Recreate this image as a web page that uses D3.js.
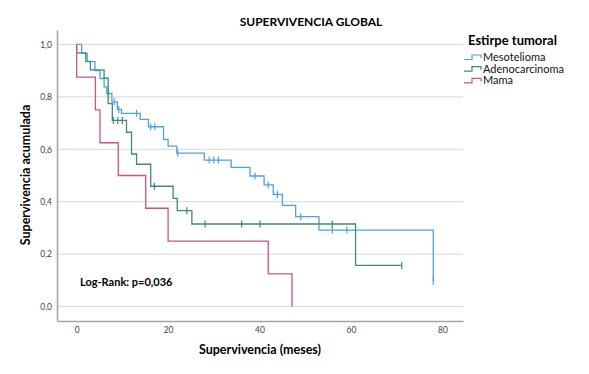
<!DOCTYPE html>
<html>
<head>
<meta charset="utf-8">
<script src="https://cdn.jsdelivr.net/npm/d3@7"></script>
<style>
  body { margin: 0; background: #fff; }
  text { font-family: Lato, "Open Sans", sans-serif; }
</style>
</head>
<body>
<svg width="589" height="374"></svg>
<script>
// Kaplan-Meier curves: event times (months) and survival after each event
const seriesNames = ["Mesotelioma", "Adenocarcinoma", "Mama"];
const seriesColors = ["#4ba3df", "#3f8a7a", "#c9557f"];

const mesoTimes = [1.1, 2.3, 4, 5.1, 6, 6.6, 7.7, 8.9, 9.8, 13.9, 15.7, 19, 20, 21.9, 27.9, 33.8, 37.9, 41, 43, 45, 47.9, 53, 78];
const mesoSurv = [0.966, 0.934, 0.90, 0.870, 0.838, 0.813, 0.781, 0.752, 0.737, 0.714, 0.686, 0.638, 0.612, 0.585, 0.559, 0.531, 0.498, 0.464, 0.428, 0.386, 0.343, 0.292, 0.097];
const mesoCensored = [6.9, 8.2, 9.2, 13.1, 16.2, 17.1, 22.1, 29, 30, 31, 39, 41.9, 43.9, 49, 55.9, 59.1, 78];

const adenoTimes = [0, 2, 3, 6, 6.9, 7.8, 10.9, 12, 13.1, 16.2, 21.1, 22, 25.2, 61];
const adenoSurv = [0.968, 0.935, 0.903, 0.871, 0.774, 0.710, 0.665, 0.582, 0.543, 0.459, 0.413, 0.366, 0.315, 0.157];
const adenoCensored = [8, 9, 10, 17, 24.1, 28.1, 36.1, 40.1, 55.9, 71.1];

const mamaTimes = [0, 4.1, 5.1, 9.1, 15.1, 20, 41.9, 47.1];
const mamaSurv = [0.875, 0.75, 0.625, 0.5, 0.375, 0.25, 0.125, 0];
const mamaCensored = [];

const xTicks = [0, 20, 40, 60, 80];
const yTicks = [0, 0.2, 0.4, 0.6, 0.8, 1.0];

const series = [
  { name: seriesNames[0], color: seriesColors[0], times: mesoTimes, surv: mesoSurv, cens: mesoCensored },
  { name: seriesNames[1], color: seriesColors[1], times: adenoTimes, surv: adenoSurv, cens: adenoCensored },
  { name: seriesNames[2], color: seriesColors[2], times: mamaTimes, surv: mamaSurv, cens: mamaCensored }
];

const svg = d3.select("svg");

const x = d3.scaleLinear().domain([-4.3, 84.5]).range([57, 463]);
const y = d3.scaleLinear().domain([-0.055, 1.055]).range([321, 30]);
const fmt = d => d3.format(".1f")(d).replace(".", ",");

// gridlines
svg.selectAll(".grid")
  .data(yTicks)
  .enter().append("line")
  .attr("x1", x.range()[0]).attr("x2", x.range()[1])
  .attr("y1", d => y(d)).attr("y2", d => y(d))
  .attr("stroke", "#d6d6d6").attr("stroke-width", 1);

// axes
const yAxis = svg.append("g").attr("transform", "translate(57,0)")
  .call(d3.axisLeft(y).tickValues(yTicks).tickSize(0).tickPadding(5).tickFormat(fmt));
const xAxis = svg.append("g").attr("transform", "translate(0,321)")
  .call(d3.axisBottom(x).tickValues(xTicks).tickSize(0).tickPadding(6));
[yAxis, xAxis].forEach(a => {
  a.select(".domain").attr("stroke", "#a3a3a3").attr("stroke-width", 1.5);
  a.selectAll("text").attr("font-family", "'Open Sans', sans-serif")
    .attr("font-size", 8.5).attr("fill", "#444");
});

// step function value at time t
function survAt(s, t) {
  let v = 1;
  s.times.forEach((tt, i) => { if (tt <= t) v = s.surv[i]; });
  return v;
}

series.forEach(s => {
  let d = "M" + x(0) + "," + y(1);
  s.times.forEach((t, i) => {
    d += "H" + x(t) + "V" + y(s.surv[i]);
  });
  const last = d3.max(s.cens.concat(s.times));
  d += "H" + x(last);
  svg.append("path")
    .attr("d", d)
    .attr("fill", "none")
    .attr("stroke", s.color)
    .attr("stroke-width", 1.3);

  svg.selectAll(null)
    .data(s.cens)
    .enter().append("line")
    .attr("x1", t => x(t)).attr("x2", t => x(t))
    .attr("y1", t => y(survAt(s, t)) - 3.5)
    .attr("y2", t => y(survAt(s, t)) + 3.5)
    .attr("stroke", s.color).attr("stroke-width", 1.2);
});

// titles
svg.append("text").attr("x", 311).attr("y", 26).attr("text-anchor", "middle")
  .attr("font-weight", "bold").attr("font-size", 12).text("SUPERVIVENCIA GLOBAL");
svg.append("text").attr("x", 260).attr("y", 354).attr("text-anchor", "middle")
  .attr("font-weight", "bold").attr("font-size", 12.5).text("Supervivencia (meses)");
svg.append("text").attr("transform", "translate(30,175) rotate(-90)").attr("text-anchor", "middle")
  .attr("font-weight", "bold").attr("font-size", 12.5).text("Supervivencia acumulada");
svg.append("text").attr("x", 80).attr("y", 286)
  .attr("font-weight", "bold").attr("font-size", 11).text("Log-Rank: p=0,036");

// legend
svg.append("text").attr("x", 468).attr("y", 45)
  .attr("font-weight", "bold").attr("font-size", 13).text("Estirpe tumoral");
const leg = svg.selectAll(".leg")
  .data(series)
  .enter().append("g")
  .attr("transform", (d, i) => "translate(464," + (57 + i * 11.7) + ")");
leg.append("path")
  .attr("d", "M0,2.5H8V-2H17V1")
  .attr("fill", "none")
  .attr("stroke", d => d.color).attr("stroke-width", 1.2);
leg.append("text").attr("x", 19).attr("y", 4)
  .attr("font-size", 11).attr("fill", "#111").text(d => d.name);
</script>
</body>
</html>
